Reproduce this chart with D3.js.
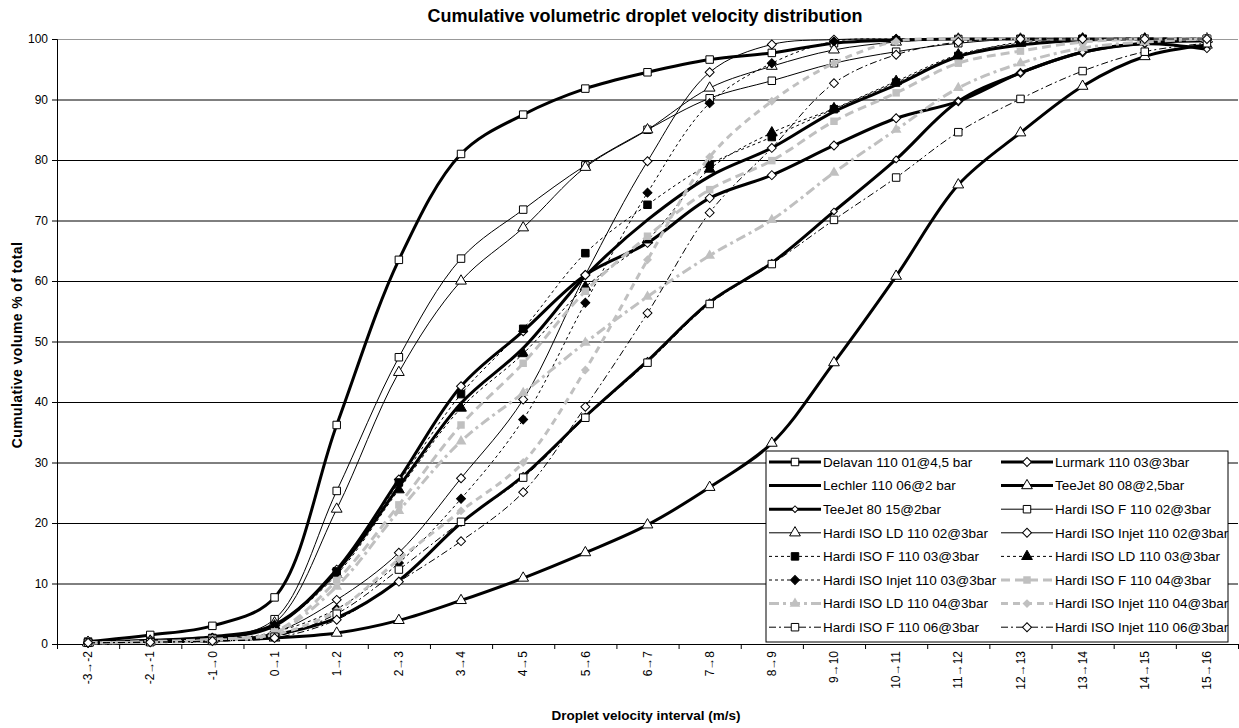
<!DOCTYPE html>
<html>
<head>
<meta charset="utf-8">
<script src="https://cdn.jsdelivr.net/npm/d3@7"></script>
<style>
  body { margin: 0; background: #fff; }
  text { font-family: Arial, "Liberation Sans", sans-serif; }
</style>
</head>
<body>
<div id="graphic"></div>
<script>
// categories (droplet velocity intervals)
const categories = ["-3→-2", "-2→-1", "-1→0", "0→1", "1→2", "2→3", "3→4", "4→5", "5→6", "6→7",
                    "7→8", "8→9", "9→10", "10→11", "11→12", "12→13", "13→14", "14→15", "15→16"];
const yTicks = [0, 10, 20, 30, 40, 50, 60, 70, 80, 90, 100];

// cumulative volume % per series
const delavan0101  = [0.4, 1.5, 3.0, 7.7, 36.2, 63.5, 81.0, 87.5, 91.8, 94.5, 96.6, 97.7, 99.3, 99.8, 100, 100, 100, 100, 100];
const lurmark0103  = [0.3, 0.5, 1.0, 3.0, 12.3, 27.2, 42.6, 51.7, 61.0, 66.3, 73.7, 77.5, 82.4, 86.9, 89.7, 94.4, 97.8, 99.3, 99.7];
const lechler0106  = [0.3, 0.6, 1.2, 3.2, 12.0, 26.0, 39.8, 48.9, 60.8, 70.1, 77.3, 82.0, 88.0, 92.4, 97.1, 99.0, 99.8, 100, 100];
const teejet8008   = [0.3, 0.5, 0.7, 1.0, 1.8, 3.9, 7.2, 10.9, 15.1, 19.7, 25.9, 33.2, 46.5, 60.8, 75.9, 84.5, 92.2, 97.1, 99.0];
const teejet8015   = [0.3, 0.4, 0.5, 1.5, 4.3, 10.5, 20.0, 27.8, 37.6, 46.8, 56.5, 63.0, 71.5, 80.1, 89.7, 94.4, 97.8, 99.2, 98.3];
const hardiF02     = [0.2, 0.5, 1.0, 4.1, 25.3, 47.4, 63.7, 71.8, 79.1, 85.0, 90.2, 93.1, 96.0, 97.9, 99.3, 100, 100, 100, 100];
const hardiLD02    = [0.2, 0.4, 0.8, 3.5, 22.3, 44.9, 60.0, 68.8, 78.8, 85.0, 91.9, 95.5, 98.2, 99.5, 100, 100, 100, 100, 100];
const hardiInjet02 = [0.2, 0.3, 0.6, 1.9, 7.3, 15.1, 27.4, 40.4, 61.0, 79.8, 94.5, 99.1, 99.9, 100, 100, 100, 100, 100, 100];
const hardiF03     = [0.2, 0.4, 0.9, 3.0, 12.0, 26.7, 41.3, 52.1, 64.6, 72.6, 79.3, 83.8, 88.4, 92.8, 97.2, 99.5, 100, 100, 100];
const hardiLD03    = [0.2, 0.4, 0.8, 3.0, 11.5, 25.5, 39.0, 48.0, 59.0, 66.8, 78.5, 84.5, 88.5, 93.0, 97.4, 99.3, 100, 100, 100];
const hardiInjet03 = [0.2, 0.3, 0.6, 2.0, 5.8, 13.4, 24.0, 37.1, 56.4, 74.6, 89.4, 96.0, 99.6, 100, 100, 100, 100, 100, 100];
const hardiF04     = [0.2, 0.4, 0.8, 2.0, 10.5, 23.0, 36.2, 46.4, 58.3, 67.4, 75.1, 79.9, 86.4, 91.1, 96.0, 98.0, 99.5, 100, 100];
const hardiLD04    = [0.2, 0.3, 0.6, 1.8, 9.5, 22.0, 33.5, 41.5, 49.8, 57.4, 64.2, 70.1, 77.9, 85.0, 91.9, 96.0, 98.5, 99.5, 100];
const hardiInjet04 = [0.2, 0.3, 0.6, 1.5, 5.5, 14.0, 22.0, 30.0, 45.3, 63.5, 80.5, 89.7, 96.0, 99.6, 100, 100, 100, 100, 100];
const hardiF06     = [0.2, 0.3, 0.5, 1.2, 5.0, 12.3, 20.2, 27.5, 37.4, 46.5, 56.2, 62.8, 70.1, 77.1, 84.6, 90.1, 94.7, 97.9, 99.3];
const hardiInjet06 = [0.2, 0.3, 0.5, 1.0, 4.0, 10.3, 17.0, 25.1, 39.2, 54.7, 71.3, 82.0, 92.7, 97.4, 99.5, 100, 100, 100, 100];

const seriesNames = ["Delavan 110 01@4,5 bar", "Lurmark 110 03@3bar", "Lechler 110 06@2 bar", "TeeJet 80 08@2,5bar",
                     "TeeJet 80 15@2bar", "Hardi ISO F 110 02@3bar", "Hardi ISO LD 110 02@3bar", "Hardi ISO Injet 110 02@3bar",
                     "Hardi ISO F 110 03@3bar", "Hardi ISO LD 110 03@3bar", "Hardi ISO Injet 110 03@3bar", "Hardi ISO F 110 04@3bar",
                     "Hardi ISO LD 110 04@3bar", "Hardi ISO Injet 110 04@3bar", "Hardi ISO F 110 06@3bar", "Hardi ISO Injet 110 06@3bar"];
const seriesValues = [delavan0101, lurmark0103, lechler0106, teejet8008, teejet8015, hardiF02, hardiLD02, hardiInjet02,
                      hardiF03, hardiLD03, hardiInjet03, hardiF04, hardiLD04, hardiInjet04, hardiF06, hardiInjet06];

// line / marker style per series (same order)
const gray = "#c0c0c0";
const styles = [
  {color: "#000", width: 3, dash: null, marker: "square", fill: "#fff", size: 56},
  {color: "#000", width: 3, dash: null, marker: "diamond", fill: "#fff", size: 40},
  {color: "#000", width: 3, dash: null, marker: null},
  {color: "#000", width: 3, dash: null, marker: "triangle", fill: "#fff", size: 50},
  {color: "#000", width: 3, dash: null, marker: "diamond", fill: "#fff", size: 22},
  {color: "#000", width: 1, dash: null, marker: "square", fill: "#fff", size: 56},
  {color: "#000", width: 1, dash: null, marker: "triangle", fill: "#fff", size: 50},
  {color: "#000", width: 1, dash: null, marker: "diamond", fill: "#fff", size: 40},
  {color: "#000", width: 1, dash: "3,3", marker: "square", fill: "#000", size: 56},
  {color: "#000", width: 1, dash: "3,3", marker: "triangle", fill: "#000", size: 50},
  {color: "#000", width: 1, dash: "3,3", marker: "diamond", fill: "#000", size: 40},
  {color: gray, width: 3, dash: "9,5", marker: "square", fill: gray, size: 56, noStroke: true},
  {color: gray, width: 3, dash: "10,4,3,4", marker: "triangle", fill: gray, size: 50, noStroke: true},
  {color: gray, width: 3, dash: "7,5", marker: "diamond", fill: gray, size: 40, noStroke: true},
  {color: "#000", width: 1, dash: "7,3,2,3", marker: "square", fill: "#fff", size: 56},
  {color: "#000", width: 1, dash: "7,3,2,3", marker: "diamond", fill: "#fff", size: 40}
];

const svgWidth = 1239, svgHeight = 728;
const margin = {top: 39, right: 1, bottom: 84, left: 57};
const plotWidth = svgWidth - margin.left - margin.right;
const plotHeight = svgHeight - margin.top - margin.bottom;

const svg = d3.select("#graphic")
              .append("svg")
              .attr("width", svgWidth)
              .attr("height", svgHeight);

const plotSvg = svg.append("g")
                   .attr("transform", "translate(" + margin.left + "," + margin.top + ")");

const x = d3.scaleBand().domain(categories).range([0, plotWidth]);
const y = d3.scaleLinear().domain([0, 100]).range([plotHeight, 0]);
const xc = c => x(c) + x.bandwidth() / 2;

// gridlines
plotSvg.append("g")
       .attr("class", "grid")
       .call(d3.axisLeft(y).tickValues(yTicks.slice(1)).tickSize(-plotWidth).tickFormat(""))
       .call(g => g.select(".domain").remove())
       .call(g => g.selectAll("line").attr("stroke", d => d === 100 ? "#999" : "#000").attr("stroke-width", 1));

// y axis
plotSvg.append("g")
       .call(d3.axisLeft(y).tickValues(yTicks).tickSize(5).tickPadding(4))
       .call(g => g.selectAll("text").attr("font-size", 12).attr("fill", "#000").attr("font-family", "Arial, 'Liberation Sans', sans-serif"))
       .call(g => g.select(".domain").attr("stroke", "#000"));

// x axis: tick marks between categories
const xb = d3.scaleLinear().domain([0, categories.length]).range([0, plotWidth]);
plotSvg.append("g")
       .attr("transform", "translate(0," + plotHeight + ")")
       .call(d3.axisBottom(xb).tickValues(d3.range(0, categories.length + 1)).tickSize(5).tickFormat(""))
       .call(g => g.select(".domain").attr("stroke", "#000"));

// x labels, rotated
plotSvg.append("g")
       .attr("transform", "translate(0," + plotHeight + ")")
       .call(d3.axisBottom(x).tickSize(0))
       .call(g => g.select(".domain").remove())
       .selectAll("text")
       .attr("transform", "rotate(-90)")
       .attr("text-anchor", "end")
       .attr("x", -7)
       .attr("y", 0)
       .attr("dy", "0.35em")
       .attr("font-size", 12)
       .attr("fill", "#000")
       .attr("font-family", "Arial, 'Liberation Sans', sans-serif");

const line = d3.line()
               .curve(d3.curveCatmullRom.alpha(0.5))
               .x((d, i) => xc(categories[i]))
               .y(d => y(d));

function markerPath(st) {
  if (st.marker === "triangle") return d3.symbol().type(d3.symbolTriangle).size(st.size)();
  return d3.symbol().type(d3.symbolSquare).size(st.size)();
}

function applyLine(sel, st) {
  sel.attr("fill", "none")
     .attr("stroke", st.color)
     .attr("stroke-width", st.width)
     .attr("stroke-dasharray", st.dash)
     .attr("stroke-linejoin", "round");
}

function applyMarker(sel, st) {
  sel.attr("d", markerPath(st))
     .attr("fill", st.fill)
     .attr("stroke", st.noStroke ? "none" : "#000")
     .attr("stroke-width", 1);
}

// plot the curves
seriesValues.forEach((vals, s) => {
  const st = styles[s];
  const g = plotSvg.append("g").attr("class", "series");
  g.append("path").datum(vals).attr("d", line).call(applyLine, st);
  if (st.marker) {
    g.selectAll("path.mk")
     .data(vals)
     .join("path")
     .attr("class", "mk")
     .attr("transform", (d, i) => "translate(" + xc(categories[i]) + "," + y(d) + ")" +
                                  (st.marker === "diamond" ? " rotate(45)" : ""))
     .call(applyMarker, st);
  }
});

// legend
const legend = svg.append("g").attr("transform", "translate(766,451)");
legend.append("rect")
      .attr("width", 462).attr("height", 191)
      .attr("fill", "#fff").attr("stroke", "#000").attr("stroke-width", 1);

seriesNames.forEach((name, s) => {
  const st = styles[s];
  const col = s % 2, row = Math.floor(s / 2);
  const lx = 3 + col * 232, ly = 11 + row * 23.6;
  const item = legend.append("g").attr("transform", "translate(" + lx + "," + ly + ")");
  item.append("path").attr("d", "M0,0H52").call(applyLine, st);
  if (st.marker) {
    item.append("path")
        .attr("transform", "translate(26,0)" + (st.marker === "diamond" ? " rotate(45)" : ""))
        .call(applyMarker, st);
  }
  item.append("text")
      .attr("x", 54).attr("y", 0).attr("dy", "0.36em")
      .attr("font-size", 13.5)
      .text(name);
});

// titles
svg.append("text")
   .attr("x", 645).attr("y", 22)
   .attr("text-anchor", "middle")
   .attr("font-weight", "bold").attr("font-size", 18)
   .text("Cumulative volumetric droplet velocity distribution");

svg.append("text")
   .attr("transform", "translate(22,345) rotate(-90)")
   .attr("text-anchor", "middle")
   .attr("font-weight", "bold").attr("font-size", 14)
   .attr("letter-spacing", 0.4)
   .text("Cumulative volume % of total");

svg.append("text")
   .attr("x", 646).attr("y", 720)
   .attr("text-anchor", "middle")
   .attr("font-weight", "bold").attr("font-size", 13.5)
   .text("Droplet velocity interval (m/s)");
</script>
</body>
</html>
